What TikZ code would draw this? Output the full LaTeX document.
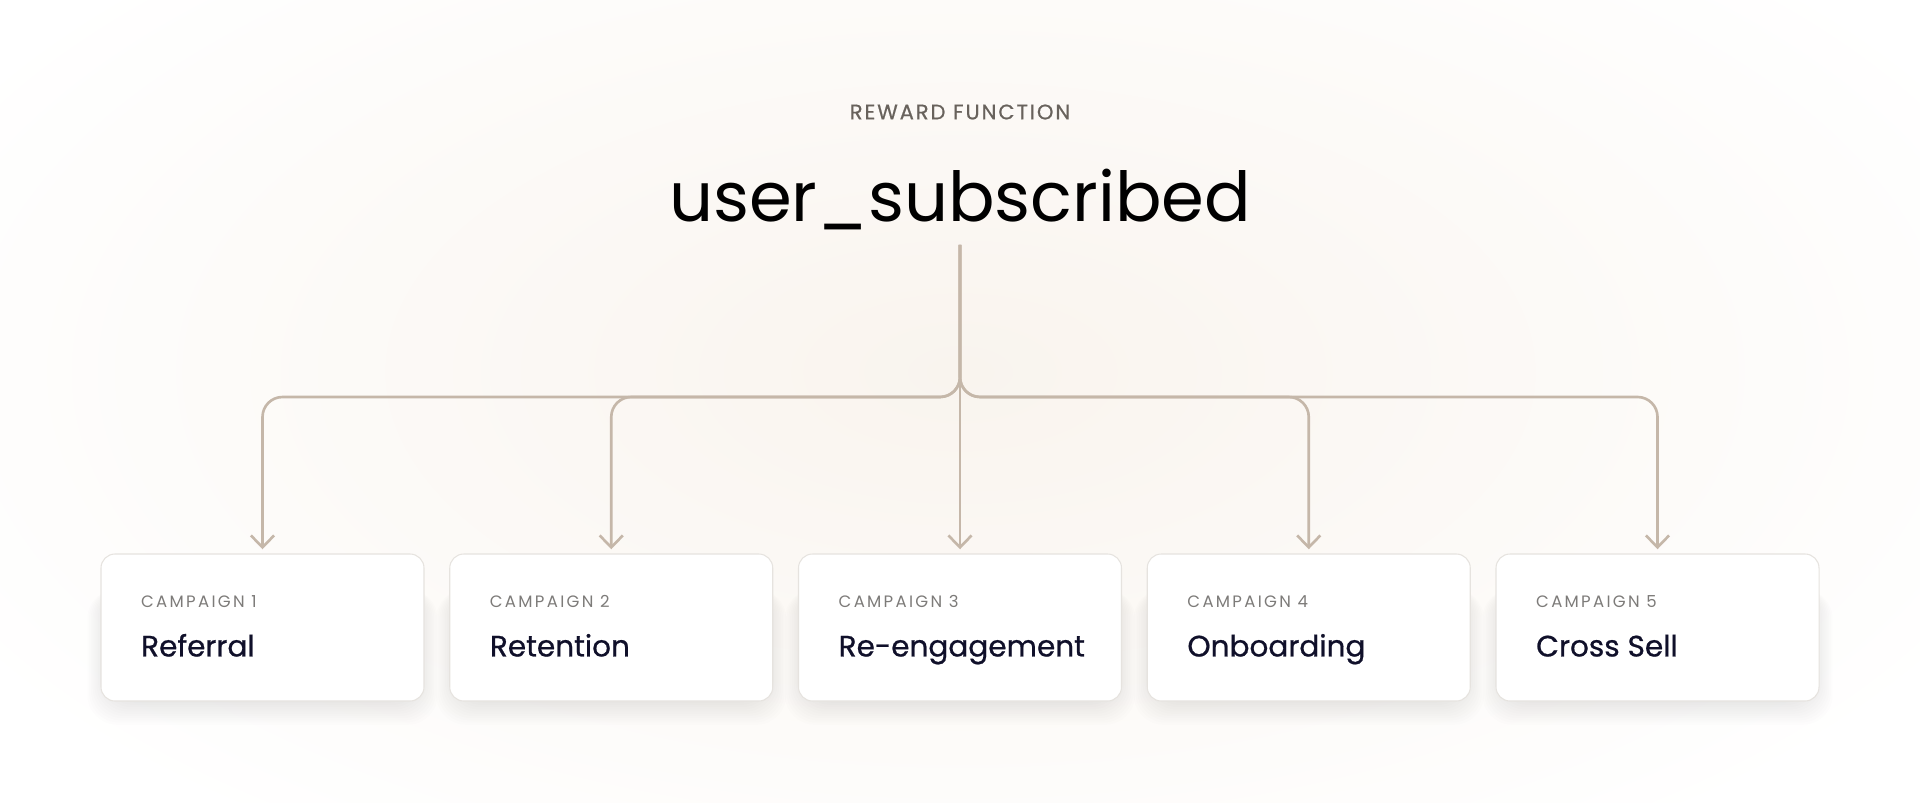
\documentclass[tikz,border=0pt]{standalone}
\usepackage{fontspec}
\setmainfont{Poppins}
\newfontfamily\kickerfont[LetterSpace=9,FakeBold=0.6]{Poppins}
\newfontfamily\tagfont[LetterSpace=14]{Poppins}
\newfontfamily\namefont[FakeBold=0.7]{Poppins}
\usetikzlibrary{arrows.meta,positioning}

\definecolor{warmbg}{RGB}{249,244,238}
\definecolor{linktan}{RGB}{197,183,169}
\definecolor{kickergrey}{RGB}{104,98,92}
\definecolor{taggrey}{RGB}{125,123,121}
\definecolor{namenavy}{RGB}{16,16,42}
\definecolor{cardedge}{RGB}{230,227,223}

\tikzset{
  card/.style={draw=cardedge, line width=0.3pt, fill=white, rounded corners=0.14cm,
    minimum width=3.23cm, minimum height=1.47cm},
  cardshade/.style={fill=black, opacity=0.006, rounded corners=0.3cm},
  tag/.style={anchor=base west, inner sep=0pt, text=taggrey, font=\tagfont\fontsize{4.7}{5}\selectfont},
  campname/.style={anchor=base west, inner sep=0pt, text=namenavy, font=\namefont\fontsize{8.4}{10}\selectfont},
  link/.style={draw=linktan, line width=0.75pt, rounded corners=0.2cm,
    -{Straight Barb[length=3.4pt,width=6.6pt]}, shorten >=1.2pt},
}

\begin{document}
\begin{tikzpicture}
    \useasboundingbox (0,0) rectangle (19.2,8.02);
    \clip (0,0) rectangle (19.2,8.02);

    % warm glow behind everything
    \fill[white] (0,0) rectangle (19.2,8.02);
    \shade[inner color=warmbg, outer color=white] (9.6,4.3) ellipse (11.5 and 5.8);

    % reward function heading
    \node[text=kickergrey, font=\kickerfont\fontsize{6}{7}\selectfont] (kicker) at (9.6,6.90) {REWARD FUNCTION};
    \node[anchor=base, inner sep=0pt, font=\fontsize{19.6}{24}\selectfont] (reward) at (9.6,5.80) {user\_subscribed};

    \coordinate (stem) at (9.6,5.57);
    \coordinate (fork) at (9.6,4.05);

    % campaign cards, each with a soft shadow
    \foreach \i/\x/\name in {1/2.625/Referral, 2/6.1125/Retention, 3/9.6/Re-engagement,
                             4/13.0875/Onboarding, 5/16.575/Cross Sell} {
        \foreach \s in {1,...,14}
            \fill[cardshade] (\x-1.5-\s*0.018,1.08-\s*0.022) rectangle (\x+1.5+\s*0.018,2.2-\s*0.005);
        \node[card] (c\i) at (\x,1.745) {};
        \node[tag] (t\i) at ([xshift=0.40cm,yshift=-0.54cm]c\i.north west) {CAMPAIGN \i};
        \node[campname] (n\i) at ([xshift=0.40cm,yshift=-1.03cm]c\i.north west) {\name};
    }

    % reward fans out to every campaign
    \foreach \i in {1,2,4,5}
        \draw[link] (stem) -- (fork) -| (c\i.north);
    \draw[link] (stem) -- (c3.north);
\end{tikzpicture}
\end{document}
